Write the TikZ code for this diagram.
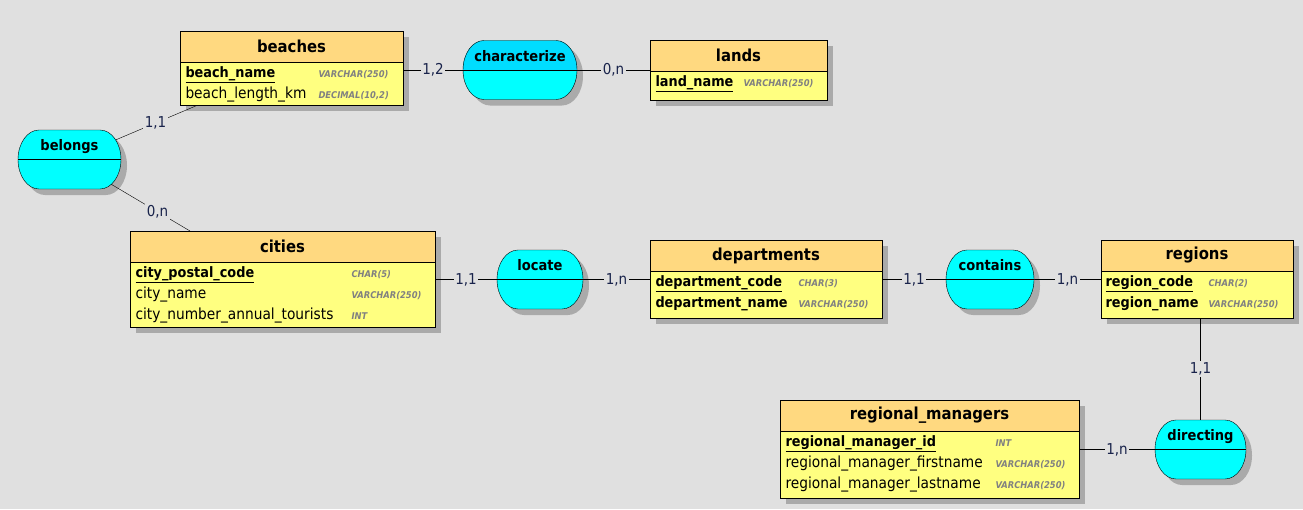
\documentclass[tikz,border=0pt]{standalone}
\usepackage{fontspec}
\usepackage{tikz}
\usetikzlibrary{positioning}
\usetikzlibrary{backgrounds}
\pgfdeclarelayer{shapes}
\pgfsetlayers{background,shapes,main}
\newfontfamily\ersans{DejaVu Sans Condensed}
\newcommand\headfont{\ersans\bfseries\fontsize{16.5}{19}\selectfont}
\newcommand\assocfont{\ersans\bfseries\fontsize{14.5}{17}\selectfont}
\newcommand\attrfont{\ersans\fontsize{15.3}{18}\selectfont}
\newcommand\keyfont{\ersans\bfseries\fontsize{14.3}{17}\selectfont}
\newcommand\typefont{\ersans\bfseries\itshape\fontsize{9.3}{11}\selectfont}
\newcommand\cardfont{\ersans\fontsize{15}{18}\selectfont}
\definecolor{bgcol}{RGB}{224,224,224}
\definecolor{headcol}{RGB}{255,217,128}
\definecolor{bodycol}{RGB}{255,255,128}
\definecolor{assoccol}{RGB}{0,255,255}
\definecolor{assoctop}{RGB}{0,221,255}
\definecolor{shadowcol}{RGB}{170,170,170}
\definecolor{typecol}{RGB}{128,128,128}
\definecolor{cardcol}{RGB}{25,35,75}

\begin{document}
\begin{tikzpicture}[x=1pt, y=-1pt, line width=1pt,
    enthead/.style={draw, fill=headcol, minimum height=31pt, inner sep=0pt, outer sep=0pt, font=\headfont},
    entbody/.style={draw, fill=bodycol, inner sep=0pt, outer sep=0pt},
    attr/.style={anchor=base west, inner sep=0pt, font=\attrfont},
    keyattr/.style={anchor=base west, inner sep=0pt, font=\keyfont},
    dtype/.style={anchor=base west, inner sep=0pt, font=\typefont, text=typecol},
    assoc/.style={minimum height=59pt, inner sep=0pt, outer sep=0pt,
        text height=11pt, text depth=29pt, font=\assocfont},
    ovalpath/.style={insert path={([xshift=21pt]#1.north west) -- ([xshift=-21pt]#1.north east)
        arc[start angle=90, end angle=-90, x radius=21pt, y radius=29.5pt]
        -- ([xshift=21pt]#1.south west)
        arc[start angle=270, end angle=90, x radius=21pt, y radius=29.5pt] -- cycle}},
    link/.style={draw},
    card/.style={fill=bgcol, inner sep=1.5pt, font=\cardfont, text=cardcol},
    shade/.style={fill=shadowcol}]

    \useasboundingbox (0,0) rectangle (1303,509);

    % Entities
    \node[enthead, minimum width=223pt] (beaches) at (291.5,46.5) {beaches};
    \node[entbody, minimum width=223pt, minimum height=43pt, below=0pt of beaches] (beaches-body) {};
    \node[keyattr] (beach-name) at (185,77) {\underline{beach\_name}};
    \node[dtype] (beach-name-t) at (318,77) {VARCHAR(250)};
    \node[attr] (beach-length) at (185,98) {beach\_length\_km};
    \node[dtype] (beach-length-t) at (318,98) {DECIMAL(10,2)};

    \node[enthead, minimum width=177pt] (lands) at (738.5,55.5) {lands};
    \node[entbody, minimum width=177pt, minimum height=29pt, below=0pt of lands] (lands-body) {};
    \node[keyattr] (land-name) at (655,86) {\underline{land\_name}};
    \node[dtype] (land-name-t) at (743,86) {VARCHAR(250)};

    \node[enthead, minimum width=305pt] (cities) at (282.5,246.5) {cities};
    \node[entbody, minimum width=305pt, minimum height=65pt, below=0pt of cities] (cities-body) {};
    \node[keyattr] (city-code) at (135,277) {\underline{city\_postal\_code}};
    \node[dtype] (city-code-t) at (351,277) {CHAR(5)};
    \node[attr] (city-name) at (135,298) {city\_name};
    \node[dtype] (city-name-t) at (351,298) {VARCHAR(250)};
    \node[attr] (city-tourists) at (135,319) {city\_number\_annual\_tourists};
    \node[dtype] (city-tourists-t) at (351,319) {INT};

    \node[enthead, minimum width=232pt] (departments) at (766,255.5) {departments};
    \node[entbody, minimum width=232pt, minimum height=47pt, below=0pt of departments] (departments-body) {};
    \node[keyattr] (dep-code) at (655,286) {\underline{department\_code}};
    \node[dtype] (dep-code-t) at (798,286) {CHAR(3)};
    \node[keyattr] (dep-name) at (655,307) {department\_name};
    \node[dtype] (dep-name-t) at (798,307) {VARCHAR(250)};

    \node[enthead, minimum width=192pt] (regions) at (1197,255.5) {regions};
    \node[entbody, minimum width=192pt, minimum height=47pt, below=0pt of regions] (regions-body) {};
    \node[keyattr] (reg-code) at (1105,286) {\underline{region\_code}};
    \node[dtype] (reg-code-t) at (1208,286) {CHAR(2)};
    \node[keyattr] (reg-name) at (1105,307) {region\_name};
    \node[dtype] (reg-name-t) at (1208,307) {VARCHAR(250)};

    \node[enthead, minimum width=299pt] (managers) at (929.5,415.5) {regional\_managers};
    \node[entbody, minimum width=299pt, minimum height=67pt, below=0pt of managers] (managers-body) {};
    \node[keyattr] (man-id) at (785,446) {\underline{regional\_manager\_id}};
    \node[dtype] (man-id-t) at (995,446) {INT};
    \node[attr] (man-first) at (785,467) {regional\_manager\_firstname};
    \node[dtype] (man-first-t) at (995,467) {VARCHAR(250)};
    \node[attr] (man-last) at (785,488) {regional\_manager\_lastname};
    \node[dtype] (man-last-t) at (995,488) {VARCHAR(250)};

    % Associations
    \node[assoc, minimum width=114pt] (characterize) at (520,70) {characterize};
    \node[assoc, minimum width=103pt] (belongs) at (69.5,159.5) {belongs};
    \node[assoc, minimum width=86pt] (locate) at (540,279.5) {locate};
    \node[assoc, minimum width=88pt] (contains) at (990,279.5) {contains};
    \node[assoc, minimum width=91pt] (directing) at (1200.5,449.5) {directing};

    \begin{pgfonlayer}{shapes}
        \foreach \n in {characterize,belongs,locate,contains,directing}
            \fill[assoccol, ovalpath=\n];
        \begin{scope}
            \clip (characterize.north west) rectangle (characterize.east);
            \fill[assoctop, ovalpath=characterize];
        \end{scope}
        \foreach \n in {characterize,belongs,locate,contains,directing} {
            \draw (\n.west) -- (\n.east);
            \draw[ovalpath=\n];
        }
    \end{pgfonlayer}

    \begin{pgfonlayer}{background}
        \fill[bgcol] (0,0) rectangle (1303,509);
        % Shadows
        \foreach \n in {beaches,lands,cities,departments,regions,managers}
            \fill[shade] ([shift={(6,6)}]\n.north west) rectangle ([shift={(6,6)}]\n-body.south east);
        \foreach \n in {characterize,belongs,locate,contains,directing}
            \fill[shade, transform canvas={shift={(6pt,-6pt)}}, ovalpath=\n];

        % Links
        \draw[link] (characterize.west -| beaches-body.east) -- (characterize.west) node[card, midway] {1,2};
        \draw[link] (characterize.east) -- (characterize.east -| lands.west) node[card, midway] {0,n};
        \draw[link] ([xshift=18pt]beaches-body.south west) -- (belongs.center) node[card, pos=0.33] {1,1};
        \draw[link] (belongs.center) -- ([xshift=60pt]cities.north west) node[card, pos=0.73] {0,n};
        \draw[link] (locate.west -| cities-body.east) -- (locate.west) node[card, midway] {1,1};
        \draw[link] (locate.east) -- (locate.east -| departments.west) node[card, midway] {1,n};
        \draw[link] (contains.west -| departments-body.east) -- (contains.west) node[card, midway] {1,1};
        \draw[link] (contains.east) -- (contains.east -| regions.west) node[card, midway] {1,n};
        \draw[link] (directing.north |- regions-body.south) -- (directing.north) node[card, midway] {1,1};
        \draw[link] (directing.west -| managers-body.east) -- (directing.west) node[card, midway] {1,n};
    \end{pgfonlayer}
\end{tikzpicture}
\end{document}
